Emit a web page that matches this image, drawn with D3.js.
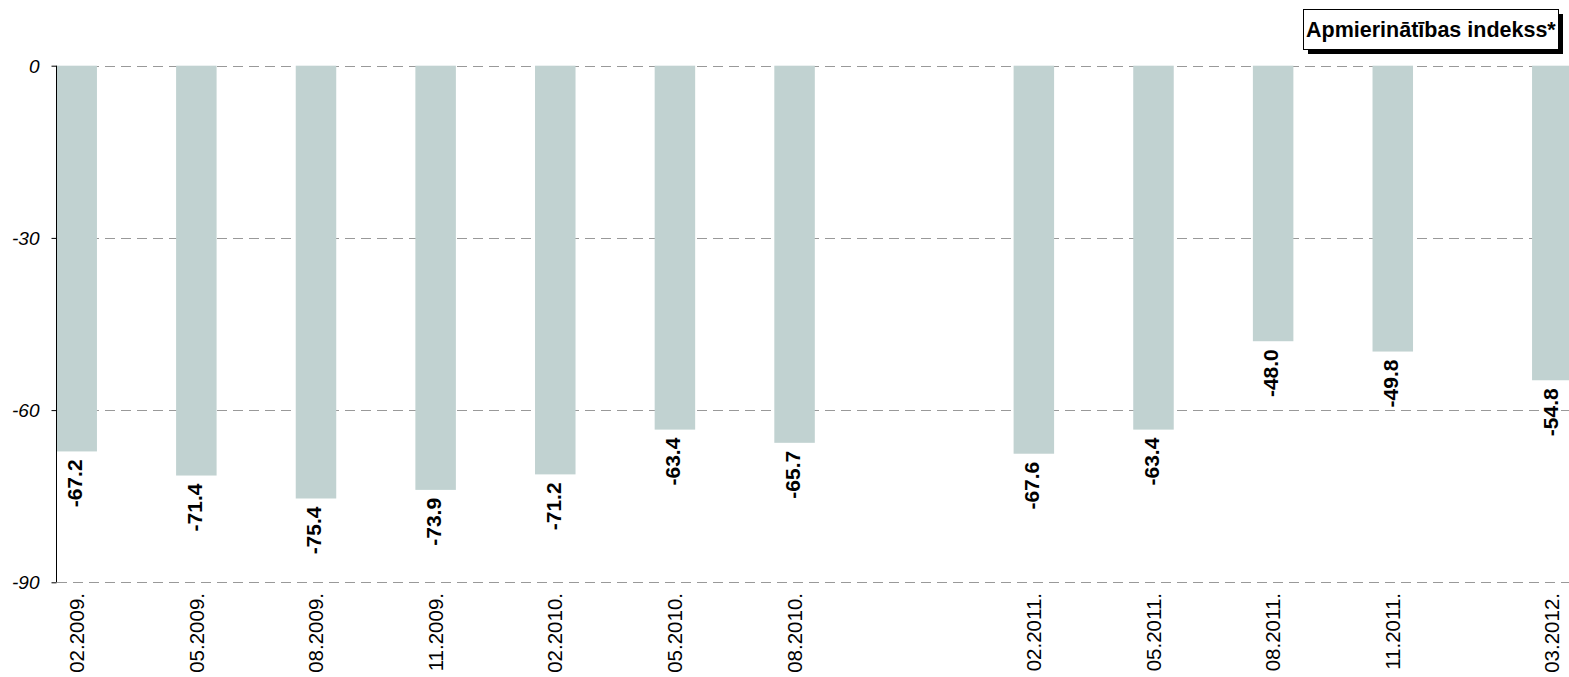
<!DOCTYPE html>
<html>
<head>
<meta charset="utf-8">
<title>Apmierinātības indekss</title>
<style>
body {margin: 0; background: #fff;}
text {font-family: Arial, "Liberation Sans", sans-serif;}
.grid line {stroke: #999; stroke-dasharray: 10,6; stroke-width: 1;}
.xtick {font-size: 20.5px;}
.val {font-size: 21px; font-weight: bold;}
.title {font-size: 21.5px; font-weight: bold;}
</style>
</head>
<body>
<div id="chart"></div>
<script src="https://cdn.jsdelivr.net/npm/d3@7"></script>
<script>
// survey periods (MM.YYYY.) and index values
var periods = ["02.2009.", "05.2009.", "08.2009.", "11.2009.", "02.2010.", "05.2010.", "08.2010.",
	"02.2011.", "05.2011.", "08.2011.", "11.2011.", "03.2012."];
var values = [-67.2, -71.4, -75.4, -73.9, -71.2, -63.4, -65.7, -67.6, -63.4, -48.0, -49.8, -54.8];
var yTicks = [0, -30, -60, -90];
var title = "Apmierinātības indekss*";

(function(d3) {
	var width = 1569;
	var height = 677;
	var plotLeft = 57;
	var barWidth = 40.5;

	// plain hyphen instead of d3's unicode minus
	var fmt1 = function(v) { return d3.format('.1f')(v).replace('\u2212', '-'); };
	var fmt0 = function(v) { return d3.format('d')(v).replace('\u2212', '-'); };

	// month number from "MM.YYYY." so the gap for missing periods stays
	function monthIdx(s) {
		var p = s.split(".");
		return (+p[1]) * 12 + (+p[0] - 1);
	}
	var data = periods.map(function(p, i) { return {label: p, m: monthIdx(p), value: values[i]}; });

	var svg = d3.select('#chart')
		.append('svg')
		.attr('width', width)
		.attr('height', height);

	var x = d3.scaleLinear()
		.domain([monthIdx(periods[0]), monthIdx(periods[periods.length - 1])])
		.range([76.7, 1552.3]);
	var y = d3.scaleLinear()
		.domain([0, -90])
		.range([65.7, 582.3]);

	// dashed gridlines
	svg.append('g')
		.attr('class', 'grid')
		.selectAll('line')
		.data(yTicks)
		.enter()
		.append('line')
		.attr('x1', plotLeft)
		.attr('x2', width)
		.attr('y1', function(d) { return Math.round(y(d)) + 0.5; })
		.attr('y2', function(d) { return Math.round(y(d)) + 0.5; });

	// bars
	svg.selectAll('rect.bar')
		.data(data)
		.enter()
		.append('rect')
		.attr('class', 'bar')
		.attr('x', function(d) { return x(d.m) - barWidth / 2; })
		.attr('y', y(0))
		.attr('width', barWidth)
		.attr('height', function(d) { return y(d.value) - y(0); })
		.attr('fill', '#c1d2d1');

	// y axis
	var yAxis = d3.axisLeft(y)
		.tickValues(yTicks)
		.tickSize(5)
		.tickFormat(fmt0);
	var ga = svg.append('g')
		.attr('transform', 'translate(' + (plotLeft - 0.5) + ',0)')
		.call(yAxis);
	ga.attr('font-size', 19).attr('font-family', 'Arial, "Liberation Sans", sans-serif');
	ga.select('.domain').attr('stroke', '#000').attr('d', 'M0,' + y(0) + 'V' + y(-90));
	ga.selectAll('.tick line').attr('stroke', '#000');
	ga.selectAll('.tick text')
		.attr('x', -17)
		.attr('dy', '0.35em')
		.attr('fill', '#000')
		.attr('font-size', 19)
		.attr('font-style', 'italic');

	// value labels under bars
	svg.selectAll('text.val')
		.data(data)
		.enter()
		.append('text')
		.attr('class', 'val')
		.attr('text-anchor', 'end')
		.attr('dy', '0.35em')
		.attr('transform', function(d) {
			return 'translate(' + (x(d.m) - 2) + ',' + (y(d.value) + 8) + ') rotate(-90)';
		})
		.text(function(d) { return fmt1(d.value); });

	// period labels
	svg.selectAll('text.xtick')
		.data(data)
		.enter()
		.append('text')
		.attr('class', 'xtick')
		.attr('text-anchor', 'end')
		.attr('dy', '0.35em')
		.attr('transform', function(d) {
			return 'translate(' + x(d.m) + ',' + 593 + ') rotate(-90)';
		})
		.text(function(d) { return d.label; });

	// title box with shadow
	var tb = svg.append('g').attr('transform', 'translate(1303,9)');
	tb.append('rect').attr('x', 5).attr('y', 5).attr('width', 255).attr('height', 40).attr('fill', '#000');
	tb.append('rect').attr('x', 0.5).attr('y', 0.5).attr('width', 255).attr('height', 40)
		.attr('fill', '#fff').attr('stroke', '#000').attr('stroke-width', 1);
	tb.append('text')
		.attr('class', 'title')
		.attr('x', 3)
		.attr('y', 28)
		.text(title);

})(window.d3);
</script>
</body>
</html>
